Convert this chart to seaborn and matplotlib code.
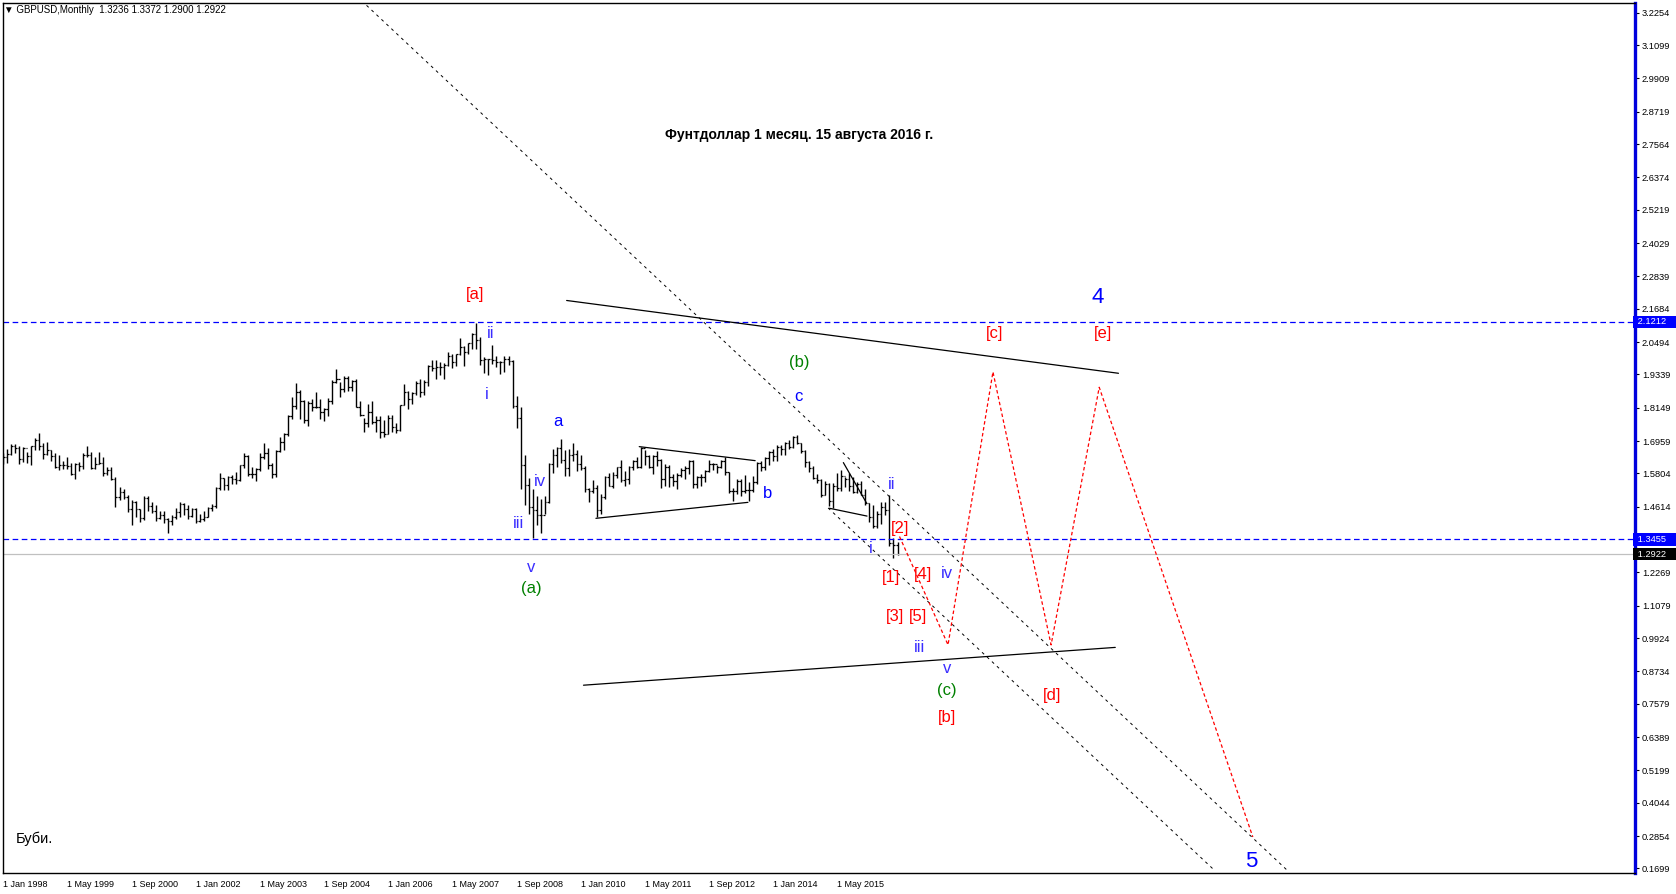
import numpy as np
import pandas as pd
import matplotlib
matplotlib.use('Agg')
import matplotlib.pyplot as plt
import matplotlib.transforms as mtransforms
import seaborn as sns

# ---- monthly GBPUSD bars, Jan 1998 .. Aug 2016 ----
first_open = 1.6445
highs = [
    1.6545, 1.6665, 1.6867, 1.6863, 1.6770, 1.6735, 1.6580, 1.6800, 1.7070, 1.7245, 1.6887, 1.6940,  # 1998
    1.6640, 1.6530, 1.6460, 1.6260, 1.6375, 1.6165, 1.6160, 1.6220, 1.6525, 1.6765, 1.6565, 1.6390,  # 1999
    1.6570, 1.6385, 1.6020, 1.6050, 1.5675, 1.5320, 1.5240, 1.5050, 1.4870, 1.4815, 1.4515, 1.5000,  # 2000
    1.4980, 1.4775, 1.4660, 1.4455, 1.4465, 1.4215, 1.4305, 1.4570, 1.4780, 1.4755, 1.4670, 1.4580,  # 2001
    1.4560, 1.4340, 1.4450, 1.4620, 1.4710, 1.5320, 1.5805, 1.5630, 1.5720, 1.5735, 1.5845, 1.6110,  # 2002
    1.6530, 1.6445, 1.6020, 1.6000, 1.6520, 1.6890, 1.6700, 1.6160, 1.6640, 1.7100, 1.7250, 1.7880,  # 2003
    1.8550, 1.9050, 1.8800, 1.8440, 1.8400, 1.8460, 1.8720, 1.8475, 1.8150, 1.8500, 1.9150, 1.9550,  # 2004
    1.9060, 1.9300, 1.9300, 1.9150, 1.9170, 1.8400, 1.7800, 1.8300, 1.8400, 1.7860, 1.7860, 1.7700,  # 2005
    1.7880, 1.7880, 1.7610, 1.8260, 1.8980, 1.8750, 1.8710, 1.9100, 1.9170, 1.9140, 1.9660, 1.9850,  # 2006
    1.9850, 1.9780, 1.9730, 2.0130, 2.0060, 2.0060, 2.0650, 2.0350, 2.0450, 2.0830, 2.1160, 2.0660,  # 2007
    1.9950, 1.9900, 2.0390, 1.9990, 1.9830, 1.9990, 2.0000, 1.9870, 1.8580, 1.8170, 1.6470, 1.5650,  # 2008
    1.5250, 1.4990, 1.4880, 1.5000, 1.6170, 1.6660, 1.6750, 1.7040, 1.6650, 1.6690, 1.6880, 1.6630,  # 2009
    1.6460, 1.6080, 1.5300, 1.5580, 1.5400, 1.5070, 1.5710, 1.5810, 1.5860, 1.6040, 1.6300, 1.5900,  # 2010
    1.6060, 1.6280, 1.6400, 1.6740, 1.6630, 1.6470, 1.6470, 1.6620, 1.6330, 1.6150, 1.6110, 1.5770,  # 2011
    1.5810, 1.5990, 1.6060, 1.6300, 1.6280, 1.5700, 1.5780, 1.5910, 1.6300, 1.6180, 1.6120, 1.6300,  # 2012
    1.6380, 1.5860, 1.5300, 1.5610, 1.5600, 1.5750, 1.5500, 1.5720, 1.6200, 1.6260, 1.6380, 1.6600,  # 2013
    1.6670, 1.6820, 1.6820, 1.6910, 1.6990, 1.7140, 1.7190, 1.6890, 1.6640, 1.6260, 1.6060, 1.5790,  # 2014
    1.5590, 1.5550, 1.5450, 1.5470, 1.5820, 1.5930, 1.5690, 1.5820, 1.5660, 1.5510, 1.5520, 1.5240,  # 2015
    1.4740, 1.4670, 1.4460, 1.4770, 1.4770, 1.5020, 1.3480, 1.3372,                                  # 2016
]
lows = [
    1.6138, 1.6190, 1.6450, 1.6540, 1.6145, 1.6195, 1.6185, 1.6090, 1.6650, 1.6640, 1.6335, 1.6460,
    1.6260, 1.6000, 1.5935, 1.5965, 1.5975, 1.5735, 1.5610, 1.5880, 1.5960, 1.6375, 1.5960, 1.5965,
    1.6125, 1.5715, 1.5745, 1.5565, 1.4620, 1.4860, 1.4905, 1.4440, 1.3965, 1.4240, 1.4080, 1.4155,
    1.4470, 1.4385, 1.4120, 1.4160, 1.4050, 1.3685, 1.3970, 1.4160, 1.4230, 1.4330, 1.4160, 1.4250,
    1.4050, 1.4060, 1.4090, 1.4230, 1.4450, 1.4580, 1.5215, 1.5200, 1.5225, 1.5410, 1.5430, 1.5520,
    1.5990, 1.5700, 1.5640, 1.5540, 1.5880, 1.6320, 1.5960, 1.5625, 1.5680, 1.6580, 1.6650, 1.7140,
    1.7760, 1.8100, 1.7760, 1.7600, 1.7480, 1.8030, 1.8140, 1.7760, 1.7690, 1.7850, 1.8300, 1.9050,
    1.8540, 1.8700, 1.8730, 1.8730, 1.8160, 1.7840, 1.7270, 1.7470, 1.7560, 1.7270, 1.7080, 1.7110,
    1.7200, 1.7300, 1.7250, 1.7320, 1.8250, 1.8120, 1.8280, 1.8600, 1.8550, 1.8600, 1.8940, 1.9470,
    1.9190, 1.9330, 1.9180, 1.9650, 1.9580, 1.9640, 2.0040, 1.9650, 2.0060, 2.0250, 2.0230, 1.9680,
    1.9380, 1.9330, 1.9720, 1.9600, 1.9370, 1.9440, 1.9660, 1.8140, 1.7440, 1.5250, 1.4680, 1.4370,
    1.3500, 1.3960, 1.3660, 1.4350, 1.4740, 1.5820, 1.6050, 1.6170, 1.5700, 1.5710, 1.6250, 1.5900,
    1.5920, 1.5150, 1.4780, 1.5120, 1.4230, 1.4360, 1.4890, 1.5350, 1.5300, 1.5650, 1.5500, 1.5340,
    1.5420, 1.5910, 1.5980, 1.6000, 1.6100, 1.5980, 1.5780, 1.6080, 1.5270, 1.5350, 1.5330, 1.5370,
    1.5230, 1.5660, 1.5600, 1.5800, 1.5270, 1.5270, 1.5340, 1.5510, 1.5840, 1.5910, 1.5830, 1.6010,
    1.5750, 1.5120, 1.4830, 1.5070, 1.5010, 1.5110, 1.4810, 1.5130, 1.5420, 1.5900, 1.5930, 1.6100,
    1.6250, 1.6250, 1.6470, 1.6460, 1.6690, 1.6720, 1.6850, 1.6520, 1.6050, 1.5870, 1.5590, 1.5450,
    1.4950, 1.5030, 1.4630, 1.4570, 1.5170, 1.5170, 1.5330, 1.5160, 1.5110, 1.5110, 1.5020, 1.4660,
    1.4080, 1.3840, 1.3840, 1.4000, 1.4330, 1.3220, 1.2800, 1.2900,
]
closes = [
    1.6393, 1.6487, 1.6765, 1.6712, 1.6330, 1.6697, 1.6436, 1.6787, 1.6984, 1.6773, 1.6493, 1.6637,
    1.6440, 1.6025, 1.6095, 1.6108, 1.6073, 1.5782, 1.6130, 1.6069, 1.6465, 1.6465, 1.5990, 1.6153,
    1.6185, 1.5820, 1.5940, 1.5620, 1.4945, 1.5145, 1.4950, 1.4545, 1.4770, 1.4540, 1.4215, 1.4935,
    1.4640, 1.4465, 1.4195, 1.4315, 1.4165, 1.4095, 1.4235, 1.4415, 1.4695, 1.4535, 1.4265, 1.4545,
    1.4110, 1.4160, 1.4250, 1.4570, 1.4625, 1.5300, 1.5635, 1.5375, 1.5690, 1.5595, 1.5560, 1.6100,
    1.6440, 1.5770, 1.5800, 1.5960, 1.6390, 1.6520, 1.6120, 1.5785, 1.6620, 1.6940, 1.7220, 1.7860,
    1.8200, 1.8700, 1.8400, 1.7700, 1.8320, 1.8160, 1.8190, 1.8000, 1.8100, 1.8400, 1.9080, 1.9180,
    1.8830, 1.9220, 1.8880, 1.9100, 1.8190, 1.7900, 1.7600, 1.8000, 1.7640, 1.7700, 1.7300, 1.7210,
    1.7780, 1.7460, 1.7360, 1.8250, 1.8700, 1.8460, 1.8680, 1.9050, 1.8710, 1.9080, 1.9650, 1.9580,
    1.9600, 1.9620, 1.9680, 2.0000, 1.9790, 2.0060, 2.0320, 2.0140, 2.0450, 2.0800, 2.0570, 1.9840,
    1.9880, 1.9880, 1.9850, 1.9800, 1.9790, 1.9900, 1.9810, 1.8200, 1.7800, 1.6100, 1.5390, 1.4620,
    1.4490, 1.4320, 1.4330, 1.4800, 1.6150, 1.6460, 1.6700, 1.6270, 1.5980, 1.6460, 1.6490, 1.6150,
    1.6000, 1.5240, 1.5180, 1.5300, 1.4500, 1.4950, 1.5690, 1.5350, 1.5730, 1.6020, 1.5560, 1.5610,
    1.6020, 1.6260, 1.6040, 1.6700, 1.6440, 1.6050, 1.6430, 1.6290, 1.5600, 1.6050, 1.5680, 1.5540,
    1.5760, 1.5930, 1.5990, 1.6230, 1.5410, 1.5690, 1.5680, 1.5880, 1.6150, 1.6130, 1.6020, 1.6250,
    1.5860, 1.5170, 1.5190, 1.5530, 1.5190, 1.5210, 1.5210, 1.5500, 1.6190, 1.6040, 1.6370, 1.6560,
    1.6430, 1.6740, 1.6670, 1.6880, 1.6740, 1.7110, 1.6880, 1.6590, 1.6210, 1.5990, 1.5640, 1.5580,
    1.5050, 1.5440, 1.4830, 1.5350, 1.5280, 1.5710, 1.5610, 1.5370, 1.5130, 1.5420, 1.5050, 1.4740,
    1.4250, 1.3920, 1.4370, 1.4610, 1.4480, 1.3310, 1.3236, 1.2922,
]

# x axis labels (bar index from Jan 1998)
date_ticks = [0, 16, 32, 48, 64, 80, 96, 112, 128, 144, 160, 176, 192, 208]
date_labels = ['1 Jan 1998', '1 May 1999', '1 Sep 2000', '1 Jan 2002', '1 May 2003',
               '1 Sep 2004', '1 Jan 2006', '1 May 2007', '1 Sep 2008', '1 Jan 2010',
               '1 May 2011', '1 Sep 2012', '1 Jan 2014', '1 May 2015']
price_ticks = [3.2254, 3.1099, 2.9909, 2.8719, 2.7564, 2.6374, 2.5219, 2.4029, 2.2839,
               2.1684, 2.0494, 1.9339, 1.8149, 1.6959, 1.5804, 1.4614, 1.2269, 1.1079,
               0.9924, 0.8734, 0.7579, 0.6389, 0.5199, 0.4044, 0.2854, 0.1699]

# horizontal levels
level_hi = 2.1212
level_lo = 1.3455
last_price = 1.2922

# red forecast zigzag
zig_x = [223.5, 235.6, 246.8, 261.3, 273.3, 311.6]
zig_y = [1.355, 0.968, 1.943, 0.968, 1.888, 0.282]

# trend lines (x0, y0, x1, y1)
solid_lines = [
    (140.5, 2.198, 278.1, 1.938),
    (144.7, 0.824, 277.3, 0.959),
    (158.6, 1.676, 187.5, 1.626),
    (147.8, 1.420, 185.7, 1.477),
    (209.5, 1.619, 215.3, 1.474),
    (206.0, 1.456, 215.4, 1.428),
]
dashed_lines = [
    (90.6, 3.252, 320.4, 0.160),
    (205.7, 1.457, 301.7, 0.1675),
]

# wave labels: text, x, y, colour, size
RED, GREEN, BLUE, VIOLET = '#ff0000', '#008000', '#0000ff', '#3a2dff'
wave_labels = [
    ('[a]', 117.6, 2.221, RED, 12), ('ii', 121.5, 2.080, VIOLET, 12),
    ('i', 120.7, 1.862, VIOLET, 12), ('a', 138.4, 1.767, BLUE, 12),
    ('iv', 133.8, 1.550, VIOLET, 12), ('iii', 128.5, 1.400, VIOLET, 12),
    ('v', 131.7, 1.244, VIOLET, 12), ('(a)', 131.7, 1.171, GREEN, 12),
    ('(b)', 198.6, 1.977, GREEN, 12), ('c', 198.3, 1.855, BLUE, 12),
    ('b', 190.6, 1.508, BLUE, 12), ('ii', 221.5, 1.542, VIOLET, 12),
    ('[2]', 223.6, 1.385, RED, 12), ('i', 216.4, 1.313, VIOLET, 12),
    ('[1]', 221.3, 1.210, RED, 12), ('[4]', 229.3, 1.221, RED, 12),
    ('iv', 235.4, 1.224, VIOLET, 12), ('[3]', 222.3, 1.068, RED, 12),
    ('[5]', 228.2, 1.068, RED, 12), ('iii', 228.5, 0.958, VIOLET, 12),
    ('v', 235.4, 0.885, VIOLET, 12), ('(c)', 235.4, 0.805, GREEN, 12),
    ('[b]', 235.4, 0.710, RED, 12), ('[d]', 261.6, 0.789, RED, 12),
    ('[c]', 247.3, 2.080, RED, 12), ('[e]', 274.3, 2.080, RED, 12),
    ('4', 273.0, 2.207, BLUE, 16), ('5', 311.1, 0.194, BLUE, 16),
]

sns.set_style('white')
plt.rcParams['font.family'] = ['Liberation Sans', 'DejaVu Sans']

W, H = 1676, 894
fig = plt.figure(figsize=(W / 100, H / 100), dpi=100)
ax = fig.add_axes([2.7 / W, 1 - 873 / H, (1635 - 2.7) / W, (873 - 3) / H])

n = len(closes)
xs = np.arange(n)
opens = np.r_[first_open, closes[:-1]]
bars = pd.DataFrame({'x': xs, 'open': opens, 'high': highs, 'low': lows, 'close': closes})

# OHLC bars
ax.vlines(bars['x'], bars['low'], bars['high'], color='black', lw=1.0)
ax.hlines(bars['open'], bars['x'] - 0.42, bars['x'], color='black', lw=0.9)
ax.hlines(bars['close'], bars['x'], bars['x'] + 0.42, color='black', lw=0.9)

# levels
ax.axhline(level_hi, color='#0000ff', lw=0.9, dashes=(4.5, 2.8))
ax.axhline(level_lo, color='#0000ff', lw=0.9, dashes=(4.5, 2.8))
ax.axhline(last_price, color='#c0c0c0', lw=0.9)

for x0, y0, x1, y1 in solid_lines:
    ax.plot([x0, x1], [y0, y1], color='black', lw=0.9)
for x0, y0, x1, y1 in dashed_lines:
    ax.plot([x0, x1], [y0, y1], color='black', lw=0.7, dashes=(3, 4))

zig = pd.DataFrame({'x': zig_x, 'y': zig_y})
sns.lineplot(data=zig, x='x', y='y', sort=False, estimator=None, ax=ax,
             color='#ff0000', lw=0.9, dashes=False)
ax.lines[-1].set_dashes((2.8, 2.0))

for txt, x, y, col, fs in wave_labels:
    ax.text(x, y, txt, color=col, fontsize=fs, ha='center', va='center')

ax.text(198.5, 2.79, 'Фунтдоллар 1 месяц. 15 августа 2016 г.', fontsize=10,
        fontweight='bold', ha='center', va='center', color='black')
ax.text(3.2, 0.275, 'Буби.', fontsize=10.5, ha='left', va='center', color='black')

ax.set_xlim(-0.125, 406.9)
ax.set_ylim(0.1533, 3.2604)
ax.set_xlabel('')
ax.set_ylabel('')

# axes frame like the terminal
for s in ['left', 'top', 'bottom']:
    ax.spines[s].set_color('black')
    ax.spines[s].set_linewidth(1.0)
ax.spines['right'].set_color('#0000dd')
ax.spines['right'].set_linewidth(2.4)

ax.set_xticks(date_ticks)
ax.set_xticklabels(date_labels, ha='left')
ax.tick_params(axis='x', length=3, width=0.8, pad=2, labelsize=6.5, colors='black', direction='out')
ax.yaxis.tick_right()
ax.set_yticks(price_ticks)
ax.set_yticklabels([f'{v:.4f}' for v in price_ticks])
ax.tick_params(axis='y', length=3, width=0.8, pad=2, labelsize=6.7, colors='black', direction='out')

# highlighted price tags on the scale
tag_tr = mtransforms.blended_transform_factory(ax.transAxes, ax.transData)
for val, bg in [(level_hi, '#0000ff'), (level_lo, '#0000ff'), (last_price, 'black')]:
    ax.text(1.0, val, f' {val:.4f}    ', transform=tag_tr, fontsize=6.7, color='white',
            ha='left', va='center',
            bbox=dict(boxstyle='square,pad=0.2', fc=bg, ec='none'))

fig.text(4 / W, 1 - 10 / H, '▼ GBPUSD,Monthly  1.3236 1.3372 1.2900 1.2922',
         fontsize=7, ha='left', va='center', color='black')

fig.savefig('out.png', dpi=100, facecolor='white')
